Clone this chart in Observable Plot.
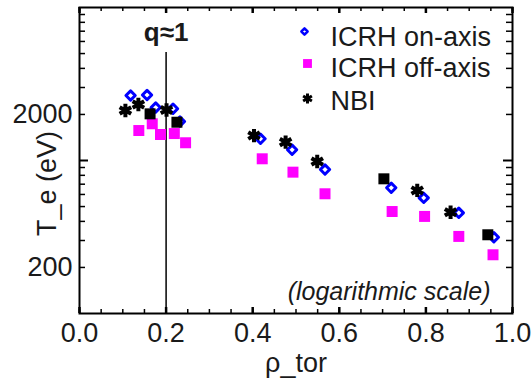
<!DOCTYPE html>
<html><head><meta charset="utf-8">
<script src="https://cdn.jsdelivr.net/npm/d3@7"></script>
<script src="https://cdn.jsdelivr.net/npm/@observablehq/plot@0.6"></script>
<style>
body{margin:0;background:#fff;}
svg{font-family:"Liberation Sans",Arial,sans-serif;}
</style>
</head><body><div id="chart"></div>
<script>
// ICRH on-axis (open blue diamonds)
const onRho = [0.118,0.156,0.176,0.216,0.232,0.418,0.491,0.567,0.720,0.795,0.876,0.957];
const onTe  = [2660,2680,2220,2180,1800,1386,1175,873,663,570,455,315];
// ICRH off-axis (magenta squares)
const offRho = [0.137,0.168,0.187,0.219,0.245,0.422,0.493,0.567,0.722,0.797,0.876,0.955];
const offTe  = [1570,1738,1479,1500,1306,1026,839,606,464,431,319,242];
// NBI (black asterisks)
const nbiRho = [0.106,0.136,0.201,0.403,0.476,0.549,0.780,0.857];
const nbiTe  = [2123,2323,2138,1456,1318,985,637,459];
// NBI points drawn as black squares
const nbiSqRho = [0.163,0.225,0.703,0.943];
const nbiSqTe  = [2018,1779,759,327];

const xTickLabels = [0,0.2,0.4,0.6,0.8,1.0];
const xMinorTicks = d3.range(0,21).map(i=>i*0.05);
const yTickLabels = [200,2000];
const yMinorTicks = [200,300,400,500,600,700,800,900,2000,3000,4000,5000,6000,7000,8000,9000];
const yMajorTicks = [1000];
const qRho = [0.2];
const yTitleAt = [708];

const legendItems = ["ICRH on-axis","ICRH off-axis","NBI"];

const pts = (xs,ys)=>xs.map((x,i)=>({x, y: ys[i]}));
const on = pts(onRho,onTe), off = pts(offRho,offTe), nbi = pts(nbiRho,nbiTe), nbiSq = pts(nbiSqRho,nbiSqTe);

const FS = 27;
const txt = "#1a1a1a";

const chart = Plot.plot({
  width: 531, height: 381,
  marginLeft: 79, marginRight: 19, marginTop: 7, marginBottom: 68,
  style: {fontFamily: '"Liberation Sans", Arial, sans-serif', background: "#fff"},
  x: {domain: [0,1], axis: null},
  y: {type: "log", domain: [100,10000], axis: null},
  marks: [
    // x ticks (inward) bottom & top
    Plot.tickX(xMinorTicks, {x: d=>d, insetTop: 302, stroke: "#000", strokeWidth: 1.5}),
    Plot.tickX(xMinorTicks, {x: d=>d, insetBottom: 302, stroke: "#000", strokeWidth: 1.5}),
    Plot.tickX(xTickLabels, {x: d=>d, insetTop: 300, stroke: "#000", strokeWidth: 2.5}),
    Plot.tickX(xTickLabels, {x: d=>d, insetBottom: 300, stroke: "#000", strokeWidth: 2.5}),
    // y ticks (inward) left & right
    Plot.tickY(yMinorTicks, {y: d=>d, insetRight: 427, stroke: "#000", strokeWidth: 1.5}),
    Plot.tickY(yMinorTicks, {y: d=>d, insetLeft: 427, stroke: "#000", strokeWidth: 1.5}),
    Plot.tickY(yMajorTicks, {y: d=>d, insetRight: 424, stroke: "#000", strokeWidth: 2}),
    Plot.tickY(yMajorTicks, {y: d=>d, insetLeft: 424, stroke: "#000", strokeWidth: 2}),
    // tick labels
    Plot.axisX(xTickLabels, {anchor: "bottom", tickSize: 0, tickPadding: 9, fontSize: FS, fill: txt, tickFormat: d3.format(".1f"), label: null}),
    Plot.axisY(yTickLabels, {anchor: "left", tickSize: 0, tickPadding: 7, fontSize: FS, fill: txt, tickFormat: d=>String(d), label: null}),
    // q≈1 line
    Plot.ruleX(qRho, {x: d=>d, insetTop: 45, stroke: "#000", strokeWidth: 1.5}),
    Plot.text(qRho, {x: d=>d, frameAnchor: "top", dy: 25, text: ()=>"q≈1", fontSize: 26, fontWeight: "bold", fill: txt, lineAnchor: "middle"}),
    // data
    Plot.dot(off, {x: "x", y: "y", symbol: "square", r: 6.2, fill: "#ff00ff", stroke: "none"}),
    Plot.dot(on, {x: "x", y: "y", symbol: "diamond2", r: 4.2, fill: "none", stroke: "#0000ff", strokeWidth: 3, strokeLinejoin: "round"}),
    Plot.dot(nbiSq, {x: "x", y: "y", symbol: "square", r: 6.2, fill: "#000", stroke: "none"}),
    Plot.dot(nbi, {x: "x", y: "y", symbol: "asterisk", r: 6.3, stroke: "#000", strokeWidth: 4}),
    // legend
    Plot.dot([0], {frameAnchor: "top-left", dx: 225, dy: 24, symbol: "diamond2", r: 2.8, fill: "none", stroke: "#0000ff", strokeWidth: 2.5, strokeLinejoin: "round"}),
    Plot.dot([0], {frameAnchor: "top-left", dx: 228, dy: 56, symbol: "square", r: 5, fill: "#ff00ff", stroke: "none"}),
    Plot.dot([0], {frameAnchor: "top-left", dx: 228, dy: 91, symbol: "asterisk", r: 4.8, stroke: "#000", strokeWidth: 3}),
    Plot.text([legendItems[0]], {frameAnchor: "top-left", dx: 251, dy: 30, text: d=>d, fontSize: FS, fill: txt, textAnchor: "start", lineAnchor: "middle"}),
    Plot.text([legendItems[1]], {frameAnchor: "top-left", dx: 251, dy: 61, text: d=>d, fontSize: FS, fill: txt, textAnchor: "start", lineAnchor: "middle"}),
    Plot.text([legendItems[2]], {frameAnchor: "top-left", dx: 251, dy: 94, text: d=>d, fontSize: FS, fill: txt, textAnchor: "start", lineAnchor: "middle"}),
    // axis titles & note
    Plot.text(["ρ_tor"], {frameAnchor: "bottom", dy: 50, text: d=>d, fontSize: FS, fill: txt, lineAnchor: "middle"}),
    Plot.text(["T_e (eV)"], {y: yTitleAt, frameAnchor: "left", dx: -32, rotate: -90, text: d=>d, fontSize: FS, fill: txt, textAnchor: "middle", lineAnchor: "middle"}),
    Plot.text(["(logarithmic scale)"], {frameAnchor: "bottom-right", dx: -22, dy: -22, text: d=>d, fontSize: 25, fontStyle: "italic", fill: txt, textAnchor: "end", lineAnchor: "middle"}),
    Plot.frame({stroke: "#000", strokeWidth: 2})
  ]
});
document.getElementById("chart").appendChild(chart);
</script>
</body></html>
